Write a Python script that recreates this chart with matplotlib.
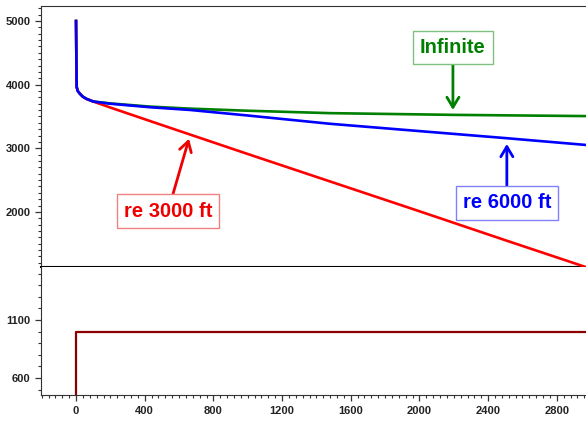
import matplotlib
matplotlib.use("Agg")
import matplotlib.pyplot as plt
from matplotlib.ticker import MultipleLocator, FixedLocator

plt.rcParams['font.family'] = ['Liberation Sans', 'DejaVu Sans']

# early time, shared by all three cases
t_early = [0, 2, 4, 10, 23, 40, 62, 100]
p_early = [5000, 4400, 3960, 3900, 3855, 3810, 3775, 3735]

# infinite acting
t_inf = [200, 430, 664, 1000, 1479, 2200, 3000]
p_inf = [3705, 3655, 3623, 3590, 3552, 3525, 3505]

# re = 6000 ft
t_6000 = [200, 430, 664, 1000, 1479, 2000, 2500, 3000]
p_6000 = [3700, 3645, 3602, 3515, 3385, 3270, 3160, 3045]

# re = 3000 ft
t_3000 = [200, 500, 1000, 1500, 2000, 2500, 3000]
p_3000 = [3640, 3365, 2910, 2460, 2010, 1555, 1105]

# rate
t_rate = [0, 0, 3000]
q_rate = [0, 1000, 1000]

fig = plt.figure(figsize=(5.86, 4.21), dpi=100)
left = 41 / 586
ax1 = fig.add_axes([left, 1 - 267 / 421, 1 - left, (267 - 6) / 421])
ax2 = fig.add_axes([left, 1 - 395 / 421, 1 - left, (395 - 267) / 421], sharex=ax1)

lw = 1.9
ax1.plot(t_early + t_inf, p_early + p_inf, color='#008000', lw=lw, zorder=3)
ax1.plot(t_early + t_3000, p_early + p_3000, color='#ff0000', lw=lw, zorder=3)
ax1.plot(t_early + t_6000, p_early + p_6000, color='#0000ff', lw=lw, zorder=4)

ax2.plot(t_rate, q_rate, color='#8b0000', lw=1.6)

ax1.set_xlim(-204, 2970)
ax1.set_ylim(1134, 5236)
ax2.set_ylim(453, 1557)

for ax in (ax1, ax2):
    ax.spines['right'].set_visible(False)
    ax.spines['left'].set_color('#333333')
    ax.yaxis.set_minor_locator(MultipleLocator(100))
    ax.tick_params(axis='y', which='major', direction='out', length=4, width=0.9, colors='#333333')
    ax.tick_params(axis='y', which='minor', direction='out', length=2, width=0.8, colors='#333333')

ax1.spines['bottom'].set_linewidth(1.5)
ax1.spines['bottom'].set_color('black')
ax1.spines['top'].set_color('#333333')
ax2.spines['top'].set_visible(False)
ax2.spines['bottom'].set_color('#333333')

ax1.yaxis.set_major_locator(FixedLocator([2000, 3000, 4000, 5000]))
ax2.yaxis.set_major_locator(FixedLocator([600, 1100]))
ax1.tick_params(axis='x', which='both', bottom=False, labelbottom=False)

ax2.xaxis.set_major_locator(MultipleLocator(400))
ax2.xaxis.set_minor_locator(MultipleLocator(40))
ax2.tick_params(axis='x', which='major', direction='out', length=4, width=0.9, colors='#333333', pad=4)
ax2.tick_params(axis='x', which='minor', direction='out', length=2, width=0.8, colors='#333333')

for ax in (ax1, ax2):
    for lab in ax.get_yticklabels() + ax.get_xticklabels():
        lab.set_fontsize(8)
        lab.set_fontweight('bold')
        lab.set_color('#222222')

ann_font = dict(fontsize=14.5, fontweight='bold', ha='center', va='center')


def arrow(c):
    return dict(arrowstyle='->,head_length=0.5,head_width=0.3', color=c, lw=2,
                shrinkA=0, shrinkB=0)


ax1.annotate('Infinite', xy=(2195, 3602), xytext=(2195, 4577),
             color='#008000', **ann_font,
             bbox=dict(boxstyle='square,pad=0.35', fc='white', ec='#7fbf7f', lw=1),
             arrowprops=arrow('#008000'))

ax1.annotate('re 6000 ft', xy=(2509, 3068), xytext=(2509, 2140),
             color='#0000ff', **ann_font,
             bbox=dict(boxstyle='square,pad=0.35', fc='white', ec='#8080ff', lw=1),
             arrowprops=arrow('#0000ff'))

ax1.annotate('re 3000 ft', xy=(658, 3150), xytext=(536, 2014),
             color='#ee0000', **ann_font,
             bbox=dict(boxstyle='square,pad=0.35', fc='white', ec='#f08080', lw=1),
             arrowprops=arrow('#ee0000'))

fig.savefig('out.png', dpi=100)
